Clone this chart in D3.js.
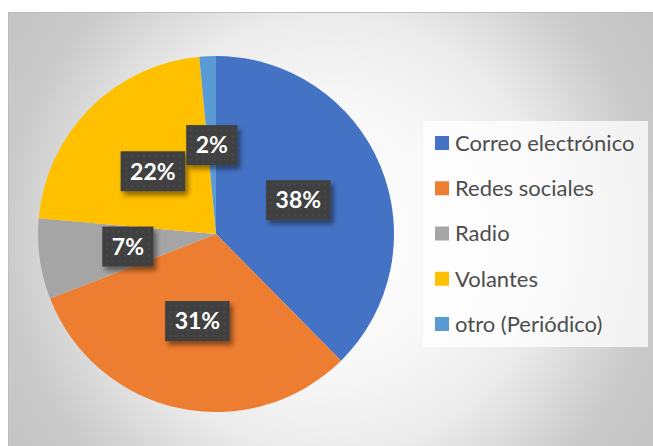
<!DOCTYPE html>
<html>
<head>
<meta charset="utf-8">
<script src="https://cdn.jsdelivr.net/npm/d3@7"></script>
<style>
  body { margin: 0; background: #fff; }
  svg { display: block; }
</style>
</head>
<body>
<div id="chart"></div>
<script>
// Data
const categories = ["Correo electrónico", "Redes sociales", "Radio", "Volantes", "otro (Periódico)"];
const values = [37.6, 31.5, 7.3, 22.1, 1.5];
const pctLabels = ["38%", "31%", "7%", "22%", "2%"];
const colors = ["#4472C4", "#ED7D31", "#A5A5A5", "#FFC000", "#5B9BD5"];

const width = 653, height = 446;

const svg = d3.select("#chart")
    .append("svg")
    .attr("width", width)
    .attr("height", height);

const defs = svg.append("defs");

// background gradient
const bg = defs.append("radialGradient")
    .attr("id", "bg")
    .attr("gradientUnits", "userSpaceOnUse")
    .attr("cx", 330).attr("cy", 235).attr("r", 400);
bg.append("stop").attr("offset", "0").attr("stop-color", "#ffffff");
bg.append("stop").attr("offset", "0.35").attr("stop-color", "#f7f7f7");
bg.append("stop").attr("offset", "0.55").attr("stop-color", "#ebebeb");
bg.append("stop").attr("offset", "0.8").attr("stop-color", "#cbcbcb");
bg.append("stop").attr("offset", "1").attr("stop-color", "#c3c3c3");

// dotted pattern for label boxes
const pat = defs.append("pattern")
    .attr("id", "dots")
    .attr("patternUnits", "userSpaceOnUse")
    .attr("width", 6).attr("height", 6);
pat.append("rect").attr("width", 6).attr("height", 6).attr("fill", "#404040");
pat.append("circle").attr("cx", 3).attr("cy", 3).attr("r", 1).attr("fill", "#4d4d4d");

// label shadow
const sh = defs.append("filter").attr("id", "shadow")
    .attr("x", "-30%").attr("y", "-30%").attr("width", "170%").attr("height", "170%");
sh.append("feDropShadow")
    .attr("dx", 3).attr("dy", 4).attr("stdDeviation", 2.5)
    .attr("flood-color", "#000").attr("flood-opacity", 0.45);

// chart area
svg.append("rect")
    .attr("x", 8.5).attr("y", 12.5)
    .attr("width", width).attr("height", height)
    .attr("fill", "url(#bg)")
    .attr("stroke", "#bdbdbd")
    .attr("stroke-width", 1);

// Pie
const cx = 216, cy = 234, R = 178;
const pie = d3.pie().sort(null).value(d => d.value);
const arc = d3.arc().innerRadius(0).outerRadius(R);

const data = categories.map((c, i) => ({ name: c, value: values[i], label: pctLabels[i], color: colors[i] }));
const arcs = pie(data);

const g = svg.append("g").attr("transform", `translate(${cx},${cy})`);

g.selectAll("path.slice")
    .data(arcs)
    .enter()
    .append("path")
    .attr("class", "slice")
    .attr("d", arc)
    .attr("fill", d => d.data.color);

// Data labels
const labels = g.selectAll("g.lbl")
    .data(arcs)
    .enter()
    .append("g")
    .attr("class", "lbl")
    .attr("transform", d => `translate(${arc.centroid(d)})`);

labels.each(function(d) {
    const lg = d3.select(this);
    const box = lg.append("rect")
        .attr("fill", "url(#dots)")
        .attr("filter", "url(#shadow)");
    const t = lg.append("text")
        .attr("text-anchor", "middle")
        .attr("dy", "0.36em")
        .attr("fill", "#ffffff")
        .style("font-family", "Lato, 'Open Sans', sans-serif")
        .style("font-weight", "bold")
        .style("font-size", "23px")
        .text(d.data.label);
    const w = t.node().getComputedTextLength() + 19;
    const h = 40;
    box.attr("x", -w / 2).attr("y", -h / 2).attr("width", w).attr("height", h);
});

// Legend
const legend = svg.append("g");
legend.append("rect")
    .attr("x", 423).attr("y", 121)
    .attr("width", 225).attr("height", 226)
    .attr("fill", "#ffffff")
    .attr("fill-opacity", 0.75);

const rowY = d3.scalePoint()
    .domain(categories)
    .range([143, 324]);

const items = legend.selectAll("g.item")
    .data(data)
    .enter()
    .append("g")
    .attr("class", "item")
    .attr("transform", d => `translate(435,${rowY(d.name)})`);

items.append("rect")
    .attr("x", 0).attr("y", -7)
    .attr("width", 14).attr("height", 14)
    .attr("fill", d => d.color);

items.append("text")
    .attr("x", 20)
    .attr("dy", "0.36em")
    .attr("fill", "#4d4d4d")
    .style("font-family", "Lato, 'Open Sans', sans-serif")
    .style("font-size", "22px")
    .text(d => d.name);
</script>
</body>
</html>
